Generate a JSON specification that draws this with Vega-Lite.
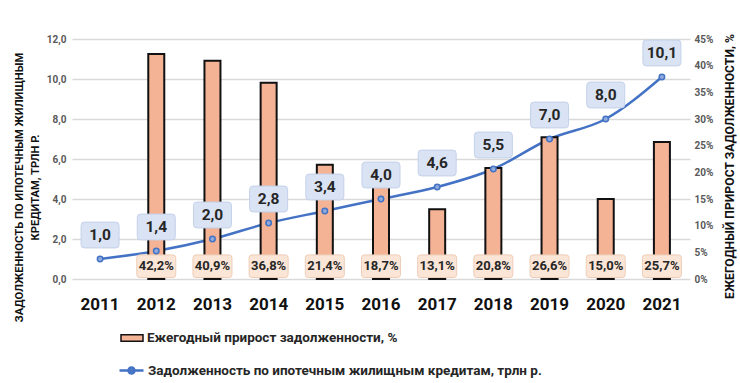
{
  "$schema": "https://vega.github.io/schema/vega-lite/v6.json",
  "width": 618,
  "height": 240,
  "autosize": {"type": "none"},
  "padding": {"left": 72, "top": 39, "right": 50, "bottom": 104},
  "background": "white",
  "config": {
    "locale": {"number": {"decimal": ",", "thousands": " ", "grouping": [3], "currency": ["", ""]}},
    "view": {"stroke": null},
    "font": "Roboto"
  },
  "data": {"values": [
    {"year": "2011", "debt": 1.0, "growth": null},
    {"year": "2012", "debt": 1.4, "growth": 0.422},
    {"year": "2013", "debt": 2.0, "growth": 0.409},
    {"year": "2014", "debt": 2.8, "growth": 0.368},
    {"year": "2015", "debt": 3.4, "growth": 0.214},
    {"year": "2016", "debt": 4.0, "growth": 0.187},
    {"year": "2017", "debt": 4.6, "growth": 0.131},
    {"year": "2018", "debt": 5.5, "growth": 0.208},
    {"year": "2019", "debt": 7.0, "growth": 0.266},
    {"year": "2020", "debt": 8.0, "growth": 0.150},
    {"year": "2021", "debt": 10.1, "growth": 0.257}
  ]},
  "encoding": {
    "x": {
      "field": "year", "type": "ordinal",
      "scale": {"type": "band", "paddingInner": 0, "paddingOuter": 0},
      "axis": {"title": null, "labelAngle": 0, "labelFontSize": 17, "labelFontWeight": "bold", "labelColor": "#111111", "labelPadding": 17, "domain": false, "ticks": false, "grid": false}
    }
  },
  "layer": [
    {
      "layer": [
        {
          "mark": {"type": "line", "interpolate": "monotone", "strokeWidth": 2.5},
          "encoding": {
            "stroke": {
              "datum": "Задолженность по ипотечным жилищным кредитам, трлн р.",
              "scale": {"range": ["#4472C4"]},
              "legend": {"orient": "none", "legendX": 46, "legendY": 318, "title": null, "padding": 0, "symbolType": "M-1,0H1M0.25,0A0.25,0.25,0,1,1,-0.25,0A0.25,0.25,0,1,1,0.25,0", "symbolSize": 576, "symbolStrokeWidth": 2.5, "symbolFillColor": "#8FAADC", "labelFontSize": 13.5, "labelFontWeight": "bold", "labelColor": "#262626", "labelLimit": 0, "labelOffset": 3}
            }
          }
        }
      ],
      "encoding": {
        "y": {
          "field": "debt", "type": "quantitative",
          "scale": {"domain": [0, 12], "nice": false},
          "axis": {"orient": "left", "values": [0, 2, 4, 6, 8, 10, 12], "tickCount": 7, "format": ".1f", "grid": true, "gridColor": "#D9D9D9", "gridWidth": 1.5, "domain": false, "ticks": false, "labelFontSize": 10, "labelFontWeight": "bold", "labelColor": "#595959", "labelPadding": 6, "labelOverlap": false, "title": ["ЗАДОЛЖЕННОСТЬ ПО ИПОТЕЧНЫМ ЖИЛИЩНЫМ", "КРЕДИТАМ, ТРЛН Р."], "titleFontSize": 11.2, "titleLineHeight": 16, "titleFontWeight": "bold", "titleColor": "#111111", "titlePadding": 6, "titleY": 148}
        }
      }
    },
    {
      "transform": [{"filter": "datum.growth != null"}],
      "layer": [
        {
          "mark": {"type": "bar", "size": 16, "stroke": "#111111", "strokeWidth": 2},
          "encoding": {
            "y": {
              "field": "growth", "type": "quantitative",
              "scale": {"domain": [0, 0.45], "nice": false},
              "axis": {"orient": "right", "values": [0, 0.05, 0.1, 0.15, 0.2, 0.25, 0.3, 0.35, 0.4, 0.45], "tickCount": 10, "format": ".0%", "grid": false, "domain": false, "ticks": false, "labelFontSize": 10, "labelFontWeight": "bold", "labelColor": "#595959", "labelPadding": 4, "labelOverlap": false, "title": "ЕЖЕГОДНЫЙ ПРИРОСТ ЗАДОЛЖЕННОСТИ, %", "titleFontSize": 12.2, "titleFontWeight": "bold", "titleColor": "#111111", "titleAngle": 270, "titleBaseline": "top", "titlePadding": 11, "titleY": 127}
            },
            "fill": {
              "datum": "Ежегодный прирост задолженности, %",
              "scale": {"range": ["#F5B396"]},
              "legend": {"orient": "none", "legendX": 48, "legendY": 287, "title": null, "padding": 0, "symbolType": "M-1,-0.3H1V0.3H-1Z", "symbolSize": 484, "symbolStrokeColor": "#111111", "symbolStrokeWidth": 1.5, "labelFontSize": 13.5, "labelFontWeight": "bold", "labelColor": "#262626", "labelLimit": 0, "labelOffset": 3}
            }
          }
        },
        {
          "mark": {"type": "point", "shape": "M-0.85,-0.58H0.85Q1,-0.58,1,-0.43V0.43Q1,0.58,0.85,0.58H-0.85Q-1,0.58,-1,0.43V-0.43Q-1,-0.58,-0.85,-0.58Z", "size": 1521, "filled": true, "fill": "#FBE5D6", "stroke": "#EDCDB8", "strokeWidth": 1, "opacity": 1},
          "encoding": {"y": {"datum": 0.024, "type": "quantitative"}}
        },
        {
          "mark": {"type": "text", "fontSize": 13, "fontWeight": "bold", "color": "#262626", "baseline": "middle", "align": "center"},
          "encoding": {
            "y": {"datum": 0.024, "type": "quantitative"},
            "text": {"field": "growth", "type": "quantitative", "format": ".1%"}
          }
        }
      ]
    },
    {
      "layer": [
        {
          "mark": {"type": "point", "filled": true, "size": 30, "fill": "#8FAADC", "stroke": "#4472C4", "strokeWidth": 1.5, "opacity": 1}
        },
        {
          "mark": {"type": "point", "shape": "M-0.82,-0.68H0.82Q1,-0.68,1,-0.5V0.5Q1,0.68,0.82,0.68H-0.82Q-1,0.68,-1,0.5V-0.5Q-1,-0.68,-0.82,-0.68Z", "size": 1444, "filled": true, "fill": "#DAE3F3", "stroke": "#C3D1EA", "strokeWidth": 1, "opacity": 1, "yOffset": -24}
        },
        {
          "mark": {"type": "text", "fontSize": 15.5, "fontWeight": "bold", "color": "#262626", "baseline": "middle", "align": "center", "dy": -24},
          "encoding": {
            "text": {"field": "debt", "type": "quantitative", "format": ".1f"}
          }
        }
      ],
      "encoding": {
        "y": {
          "field": "debt", "type": "quantitative",
          "scale": {"domain": [0, 12], "nice": false},
          "axis": null
        }
      }
    }
  ],
  "resolve": {"scale": {"y": "independent"}}
}
